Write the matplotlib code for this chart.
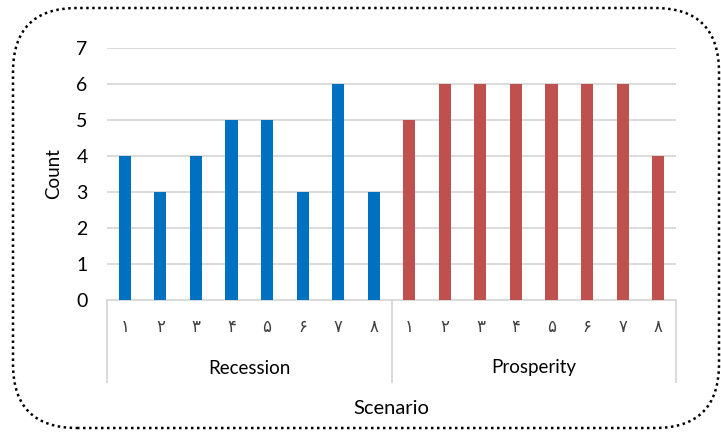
import matplotlib
matplotlib.use("Agg")
import matplotlib.pyplot as plt
from matplotlib.patches import FancyBboxPatch
from matplotlib.lines import Line2D
from matplotlib.transforms import IdentityTransform
import numpy as np

plt.rcParams['font.family'] = ['Lato', 'DejaVu Sans']

groups = ["Recession", "Prosperity"]
sub_labels = ["۱", "۲", "۳", "۴", "۵", "۶", "۷", "۸"]
recession = [4, 3, 4, 5, 5, 3, 6, 3]
prosperity = [5, 6, 6, 6, 6, 6, 6, 4]
colors = ["#0070C0", "#C0504D"]
y_ticks = [0, 1, 2, 3, 4, 5, 6, 7]

W, H = 721, 432
fig = plt.figure(figsize=(W / 100, H / 100), dpi=100)

# rounded dotted frame around the chart (pixel coordinates, origin bottom-left)
frame = FancyBboxPatch((13, H - 428), 719 - 13, 428 - 8,
                       boxstyle="round,pad=0,rounding_size=64",
                       transform=IdentityTransform(), fill=False,
                       edgecolor="black", linewidth=1.8,
                       linestyle=(0, (1.0, 1.4)), capstyle="butt")
fig.patches.append(frame)

ax = fig.add_axes([107 / W, 1 - 300 / H, (676 - 107) / W, (300 - 48) / H])

n = len(sub_labels)
x_rec = np.arange(n)
x_pro = np.arange(n) + n
bar_w = 0.34
ax.bar(x_rec, recession, width=bar_w, color=colors[0], zorder=3)
ax.bar(x_pro, prosperity, width=bar_w, color=colors[1], zorder=3)

ax.set_xlim(-0.5, 2 * n - 0.5)
ax.set_ylim(0, 7)
ax.set_yticks(y_ticks)
ax.set_yticklabels([str(v) for v in y_ticks], fontsize=14)
ax.tick_params(axis="y", length=0, pad=14)
ax.set_xticks([])
ax.grid(axis="y", color="#D9D9D9", linewidth=1.4, zorder=0)
for s in ["top", "right", "left"]:
    ax.spines[s].set_visible(False)
ax.spines["bottom"].set_color("#D9D9D9")
ax.spines["bottom"].set_linewidth(1.4)

ax.set_ylabel("Count", fontsize=13.5, labelpad=10)

trans = ax.get_xaxis_transform()
px = 1 / (300 - 48)  # one pixel in axes-height units
for i, lab in enumerate(sub_labels * 2):
    ax.text(i, -27 * px, lab, transform=trans, ha="center", va="center",
            fontsize=12, color="#404040")
for g, name in enumerate(groups):
    ax.text(g * n + (n - 1) / 2, -68 * px, name, transform=trans,
            ha="center", va="center", fontsize=13.5, color="black")
for xb in [-0.5, n - 0.5, 2 * n - 0.5]:
    ax.add_line(Line2D([xb, xb], [0, -82 * px], transform=trans,
                       color="#D9D9D9", linewidth=1.4, clip_on=False))

fig.text((107 + 676) / 2 / W, 1 - 408 / H, "Scenario", ha="center", va="center",
         fontsize=14.5)

fig.savefig("out.png", dpi=100)
